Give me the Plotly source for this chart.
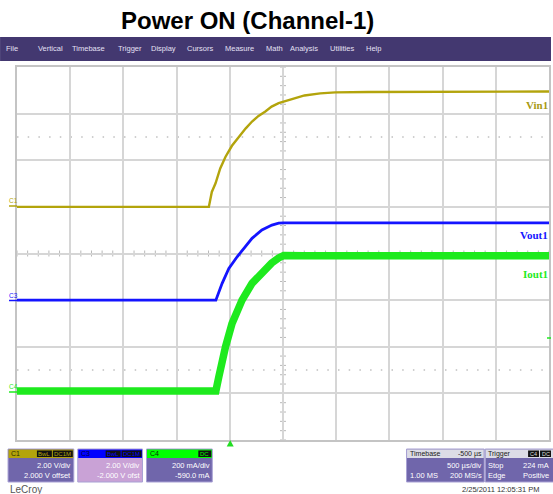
import plotly.graph_objects as go

# ---------------- data ----------------
# time in microseconds relative to trigger
vin_t = [-2000, -197, -169, -134, -90, -40, 20, 84, 150, 209, 270, 334, 393, 459, 506, 600, 702, 850, 993, 1300, 1700, 2200, 2600, 3000]
vin_v = [0.0, 0.0, 0.64, 1.01, 1.65, 2.15, 2.62, 3.01, 3.37, 3.66, 3.90, 4.09, 4.30, 4.45, 4.51, 4.66, 4.78, 4.87, 4.91, 4.93, 4.94, 4.95, 4.95, 4.95]

vout_t = [-2000, -131, -72, -9, 69, 147, 209, 302, 396, 459, 506, 700, 1200, 2000, 3000]
vout_v = [0.0, 0.0, 0.72, 1.36, 1.86, 2.29, 2.65, 3.01, 3.22, 3.30, 3.31, 3.31, 3.31, 3.31, 3.31]

iout_t = [-2000, -131, -103, -72, -40, 21, 115, 209, 334, 393, 459, 506, 700, 1200, 2000, 3000]
iout_ma = [0, 0, 61, 133, 190, 290, 390, 462, 523, 549, 571, 581, 580, 580, 580, 580]

# scope settings
ch1_scale, ch1_offset = 2.0, 2.0       # V/div, V
ch3_scale, ch3_offset = 2.0, -2.0      # V/div, V
ch4_scale, ch4_offset = 200.0, -590.0  # mA/div, mA
time_per_div = 500                     # us/div
center_time = 500                      # us (trigger delay -500 us)
n_xdiv, n_ydiv = 10, 8

trace_names = ["Vin1", "Vout1", "Iout1"]
menu_items = ["File", "Vertical", "Timebase", "Trigger", "Display", "Cursors",
              "Measure", "Math", "Analysis", "Utilities", "Help"]
title_text = "Power ON (Channel-1)"
date_text = "2/25/2011 12:05:31 PM"

# ---------------- layout helpers (pixels -> paper) ----------------
W, H = 553, 494
L, R, T, B = 17, 551, 67, 440
def fx(px): return (px - L) / (R - L)
def fy(py): return (B - py) / (B - T)

def yrange(scale, offset):
    return [-n_ydiv / 2 * scale - offset, n_ydiv / 2 * scale - offset]

OLIVE = "#b3a40c"
BLUE = "#1414ff"
GREEN = "#1eea1e"
GRID = "#d6d6d6"
PURPLE = "#7066ab"

fig = go.Figure()
fig.add_trace(go.Scatter(x=vin_t, y=vin_v, mode="lines", line=dict(color=OLIVE, width=2.4),
                         yaxis="y", name=trace_names[0], hoverinfo="skip"))
fig.add_trace(go.Scatter(x=vout_t, y=vout_v, mode="lines", line=dict(color=BLUE, width=2.8),
                         yaxis="y2", name=trace_names[1], hoverinfo="skip"))
fig.add_trace(go.Scatter(x=iout_t, y=iout_ma, mode="lines", line=dict(color=GREEN, width=7.5),
                         yaxis="y3", name=trace_names[2], hoverinfo="skip"))

xr = [center_time - n_xdiv / 2 * time_per_div, center_time + n_xdiv / 2 * time_per_div]
r1 = yrange(ch1_scale, ch1_offset)
fig.update_layout(
    width=W, height=H, margin=dict(l=L, r=W - R, t=T, b=H - B),
    paper_bgcolor="white", plot_bgcolor="white", showlegend=False,
    xaxis=dict(range=xr, tick0=xr[0], dtick=time_per_div, showgrid=True, gridcolor=GRID, gridwidth=1.5,
               showticklabels=False, ticks="", zeroline=False, showline=True, linecolor="#c4c4c4",
               linewidth=1.5, mirror=True, fixedrange=True),
    yaxis=dict(range=r1, tick0=r1[0], dtick=ch1_scale, showgrid=True, gridcolor=GRID, gridwidth=1.5,
               showticklabels=False, ticks="", zeroline=False, showline=True, linecolor="#c4c4c4",
               linewidth=1.5, mirror=True, fixedrange=True),
    yaxis2=dict(range=yrange(ch3_scale, ch3_offset), overlaying="y", visible=False, fixedrange=True),
    yaxis3=dict(range=yrange(ch4_scale, ch4_offset), overlaying="y", visible=False, fixedrange=True),
)

shapes = []
annotations = []

def rect(x0, y0, x1, y1, fill, line=None, lw=0):
    shapes.append(dict(type="rect", xref="paper", yref="paper", x0=fx(x0), x1=fx(x1), y0=fy(y1), y1=fy(y0),
                       fillcolor=fill, line=dict(color=line or fill, width=lw), layer="above"))

def text(px, py, s, size=7.5, color="white", anchor="left", family="Liberation Sans", bold=False):
    annotations.append(dict(xref="paper", yref="paper", x=fx(px), y=fy(py), text=("<b>%s</b>" % s) if bold else s,
                            showarrow=False, xanchor=anchor, yanchor="middle",
                            font=dict(size=size, color=color, family=family), borderpad=0))

# center cross ticks
xc = (L + R) / 2
yc = (T + B) / 2
dxdiv = (R - L) / n_xdiv
dydiv = (B - T) / n_ydiv
for i in range(n_xdiv * 5 + 1):
    px = L + i * dxdiv / 5
    shapes.append(dict(type="line", xref="paper", yref="paper", x0=fx(px), x1=fx(px), y0=fy(yc - 3), y1=fy(yc + 3),
                       line=dict(color="#b8b8b8", width=1), layer="below"))
for i in range(n_ydiv * 5 + 1):
    py = T + i * dydiv / 5
    shapes.append(dict(type="line", xref="paper", yref="paper", x0=fx(xc - 3), x1=fx(xc + 3), y0=fy(py), y1=fy(py),
                       line=dict(color="#b8b8b8", width=1), layer="below"))
# dotted lines
for d in (-2.5, 2.5):
    py = yc - d * dydiv
    shapes.append(dict(type="line", xref="paper", yref="paper", x0=0, x1=1, y0=fy(py), y1=fy(py),
                       line=dict(color="#c0c0c0", width=1.5, dash="1.5px,9.2px"), layer="below"))

# menu bar
rect(0, 37, W, 61, "#433870")
menu_x = [5, 37, 71, 117, 150, 187, 225, 266, 290, 330, 366]
for name, px in zip(menu_items, menu_x):
    text(px, 49, name, size=7.5, color="#e4e0f4")

# title
text(248, 21, title_text, size=24, color="black", anchor="center", bold=True)

# trace labels
text(551, 105, trace_names[0], size=11, color="#a89a14", anchor="right", family="Liberation Serif", bold=True)
text(551, 235, trace_names[1], size=11, color=BLUE, anchor="right", family="Liberation Serif", bold=True)
text(551, 274, trace_names[2], size=11, color=GREEN, anchor="right", family="Liberation Serif", bold=True)

# channel ground markers on left
for lab, col, ly in (("C1", OLIVE, 206), ("C3", BLUE, 300.5), ("C4", GREEN, 392)):
    shapes.append(dict(type="line", xref="paper", yref="paper", x0=fx(9), x1=fx(17), y0=fy(ly), y1=fy(ly),
                       line=dict(color=col, width=1.5), layer="above"))
    text(8, ly - 5.5, lab, size=6.5, color=col)
# right side small marker
shapes.append(dict(type="line", xref="paper", yref="paper", x0=fx(549), x1=fx(553), y0=fy(338), y1=fy(338),
                   line=dict(color=GREEN, width=1.5), layer="above"))
# trigger triangle
tx, ty = 231, 443
shapes.append(dict(type="path", xref="paper", yref="paper",
                   path="M %f %f L %f %f L %f %f Z" % (fx(tx - 3.5), fy(ty + 3.5), fx(tx + 3.5), fy(ty + 3.5), fx(tx), fy(ty - 3)),
                   fillcolor="#22dd22", line=dict(color="#22dd22", width=0), layer="above"))

# channel boxes
def chan_box(x0, x1, head, body, label, label_col, badges, l1, l2):
    rect(x0, 449, x1, 482, body, "#a8a0d4", 1)
    rect(x0 + 0.5, 449.5, x1 - 0.5, 458, head)
    text(x0 + 2, 453.5, label, size=7, color=label_col)
    bx = x1 - 1
    for b, bw in reversed(badges):
        rect(bx - bw, 450.5, bx, 457, "#111111")
        text(bx - bw / 2, 453.7, b, size=6, color=head, anchor="center")
        bx -= bw + 1
    text(x1 - 1.5, 465, l1, size=7.5, anchor="right")
    text(x1 - 1.5, 475.5, l2, size=7.5, anchor="right")

chan_box(8, 74, OLIVE, PURPLE, "C1", "#2a2a00", [("BwL", 15), ("DC1M", 20)], "2.00 V/div", "2.000 V offset")
chan_box(78, 143, "#0000ff", "#c9a2d6", "C3", "#000044", [("BwL", 15), ("DC1M", 20)], "2.00 V/div", "-2.000 V ofst")
chan_box(147, 213, "#00ff00", PURPLE, "C4", "#003300", [("DC", 13)], "200 mA/div", "-590.0 mA")

# timebase box
rect(408, 449, 486, 482, PURPLE, "#a8a0d4", 1)
rect(408.5, 449.5, 485.5, 458, "#dcdce6")
text(410, 453.7, "Timebase", size=7, color="#222")
text(485, 453.7, "-500 µs", size=7, color="#222", anchor="right")
text(485, 465.5, "500 µs/div", size=7.5, anchor="right")
text(410, 475.5, "1.00 MS", size=7.5)
text(485, 475.5, "200 MS/s", size=7.5, anchor="right")
# trigger box
rect(487, 449, 556, 482, PURPLE, "#a8a0d4", 1)
rect(487.5, 449.5, 555, 458, "#dcdce6")
text(489, 453.7, "Trigger", size=7, color="#222")
rect(530, 450.5, 541, 457, "#111111")
rect(542, 450.5, 553, 457, "#111111")
text(535.5, 453.7, "C4", size=5.5, color="#dddddd", anchor="center")
text(547.5, 453.7, "DC", size=5.5, color="#dddddd", anchor="center")
text(489, 465.5, "Stop", size=7.5)
text(552, 465.5, "224 mA", size=7.5, anchor="right")
text(489, 475.5, "Edge", size=7.5)
text(552, 475.5, "Positive", size=7.5, anchor="right")

# footer
text(9, 489, "<u>LeCroy</u>", size=10, color="#555555")
text(502, 489, date_text, size=7.5, color="#333333", anchor="center")

fig.update_layout(shapes=shapes, annotations=annotations)
fig.write_html("out.html", config={"displayModeBar": False},
               post_script="document.body.style.margin='0';document.body.style.overflow='hidden';")
